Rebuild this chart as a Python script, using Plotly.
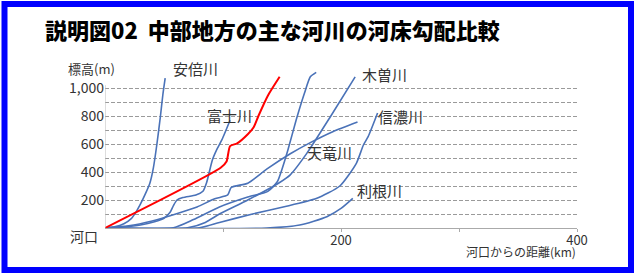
import plotly.graph_objects as go

# ---- data (distance from river mouth km, elevation m) ----
abe_x = [0, 8, 16, 22, 26, 30, 34, 38, 41, 44, 47, 49, 51]
abe_y = [0, 8, 30, 65, 110, 170, 240, 320, 430, 600, 800, 950, 1070]

oi_x = [0, 98, 103, 106, 112, 121, 126, 130, 138, 148]
oi_y = [0, 430, 475, 585, 605, 670, 720, 800, 945, 1080]

fuji_x = [0, 15, 30, 42, 50, 55, 58, 61, 66, 77, 83, 86, 91, 95, 99, 106]
fuji_y = [0, 8, 22, 45, 70, 110, 160, 200, 218, 235, 262, 321, 486, 565, 629, 770]

nagara_x = [0, 58, 75, 97, 121, 138, 146, 150, 155, 162, 169, 174, 179]
nagara_y = [0, 2, 60, 150, 221, 262, 330, 420, 557, 771, 962, 1080, 1112]

kiso_x = [0, 70, 85, 97, 121, 147, 157, 171, 191, 212]
kiso_y = [0, 2, 40, 100, 200, 320, 380, 533, 795, 1080]

tenryu_x = [0, 20, 40, 60, 78, 93, 104, 107, 121, 137, 157, 174, 193, 214]
tenryu_y = [0, 15, 50, 100, 150, 209, 236, 290, 320, 420, 530, 610, 688, 757]

shinano_x = [0, 80, 97, 125, 151, 179, 199, 213, 219, 223, 231]
shinano_y = [0, 2, 40, 100, 150, 210, 300, 462, 593, 652, 821]

tone_x = [0, 137, 165, 188, 200, 210]
tone_y = [0, 0, 21, 81, 140, 212]

BLUE = "#4a72b8"
RED = "#ff0000"
rivers = [
    ("安倍川", abe_x, abe_y, BLUE, 76.7, 1136),
    ("富士川", fuji_x, fuji_y, BLUE, 105.5, 807),
    ("長良川", nagara_x, nagara_y, BLUE, 188.6, 1186),
    ("木曽川", kiso_x, kiso_y, BLUE, 236.9, 1100),
    ("天竜川", tenryu_x, tenryu_y, BLUE, 190.3, 536),
    ("信濃川", shinano_x, shinano_y, BLUE, 250.4, 793),
    ("利根川", tone_x, tone_y, BLUE, 233.0, 271),
    ("大井川", oi_x, oi_y, RED, 135.6, 1164),
]

y_ticks = [0, 100, 200, 300, 400, 500, 600, 700, 800, 900, 1000]
y_labels = ["", "", "200", "", "400", "", "600", "", "800", "", "1,000"]
x_ticks = [100, 200, 300, 400]
x_labels = ["", "200", "", "400"]

title = "説明図02  中部地方の主な河川の河床勾配比較"
FONT = "Noto Sans CJK JP"

W, H = 636, 275
L, T = 105, 67
pw, ph = 472, 161
R, B = W - L - pw, H - T - ph

def px(xp):
    return (xp - L) / pw

def py(yp):
    return (T + ph - yp) / ph

fig = go.Figure()
for name, xs, ys, col, lx, ly in rivers:
    fig.add_trace(go.Scatter(x=xs, y=ys, mode="lines", name=name,
                             line=dict(color=col, width=2 if col == RED else 1.6, shape="spline", smoothing=0.6),
                             hoverinfo="skip", showlegend=False))
    fig.add_annotation(x=lx, y=ly, xref="x", yref="y", text=name, showarrow=False,
                       xanchor="center", yanchor="middle",
                       font=dict(family=FONT, size=15, color=RED if col == RED else "#333333"))

fig.add_annotation(x=px(91.5), y=py(68), xref="paper", yref="paper", text="標高(m)",
                   xanchor="center", yanchor="middle",
                   showarrow=False, font=dict(family=FONT, size=13, color="#333333"))
fig.add_annotation(x=px(100), y=py(236), xref="paper", yref="paper", text="河口", xanchor="right",
                   yanchor="middle", showarrow=False, font=dict(family=FONT, size=14, color="#333333"))
fig.add_annotation(x=px(578), y=py(251.5), xref="paper", yref="paper", text="河口からの距離(km)", xanchor="right",
                   yanchor="middle", showarrow=False, font=dict(family=FONT, size=12, color="#333333"))

# y axis line (short)
fig.add_shape(type="line", xref="x", yref="y", x0=0, x1=0, y0=0, y1=1020,
              line=dict(color="#bbbbbb", width=1))
# blue frame
fig.add_shape(type="rect", xref="paper", yref="paper", x0=px(4.5), x1=px(631), y0=py(270), y1=py(4),
              line=dict(color="#0000ff", width=6), fillcolor="rgba(0,0,0,0)", layer="above")

fig.update_layout(
    width=W, height=H, margin=dict(l=L, r=R, t=T, b=B),
    paper_bgcolor="white", plot_bgcolor="white",
    title=dict(text=title, x=45 / W, xanchor="left", y=1 - 31 / H,
               yanchor="middle", font=dict(family=FONT, size=22, color="#000000", weight=900)),
    xaxis=dict(range=[0, 400], tickvals=x_ticks, ticktext=x_labels, showgrid=False, zeroline=False,
               showline=True, linecolor="#aaaaaa", linewidth=1, ticks="outside", ticklen=3,
               tickcolor="#aaaaaa", ticklabelstandoff=-3,
               tickfont=dict(family=FONT, size=13, color="#333333")),
    yaxis=dict(range=[0, 1150], tickvals=y_ticks, ticktext=y_labels, showgrid=True,
               gridcolor="#9a9a9a", gridwidth=1.2, griddash="4px,2px", zeroline=False, showline=False,
               ticks="", tickfont=dict(family=FONT, size=14, color="#333333")),
)

fig.write_html("out.html", config={"displayModeBar": False},
               post_script="document.body.style.margin='0';document.body.style.overflow='hidden';")
